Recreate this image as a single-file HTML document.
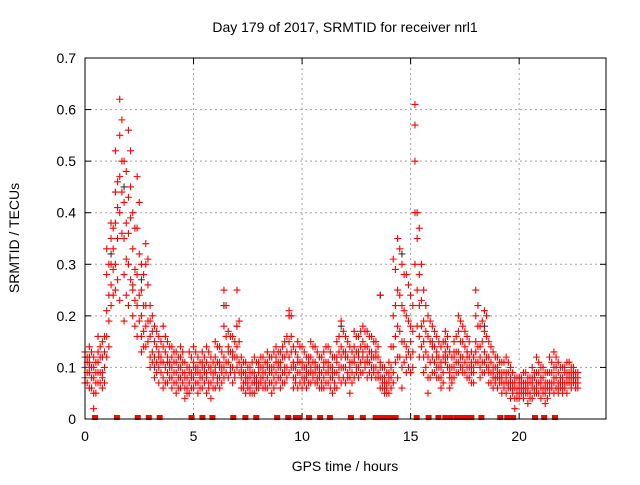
<!DOCTYPE html>
<html><head><meta charset="utf-8"><style>
body{margin:0;background:#fff;}
svg text{font-family:"Liberation Sans",sans-serif;font-size:14px;fill:#000;}
</style></head><body>
<svg id="chart" width="640" height="480" xmlns="http://www.w3.org/2000/svg">
<rect width="640" height="480" fill="#fff"/>
<text x="345" y="32" text-anchor="middle">Day 179 of 2017, SRMTID for receiver nrl1</text>
<text x="345" y="471" text-anchor="middle">GPS time / hours</text>
<text transform="translate(19,238) rotate(-90)" text-anchor="middle">SRMTID / TECUs</text>
<g id="grid"></g>
<g id="ticks"></g>
<g id="marks"></g>
<rect x="85" y="58" width="521" height="361" fill="none" stroke="#000" stroke-width="1"/>
</svg>
<script>
const xTicks=[0,5,10,15,20];
const yTicks=[0,0.1,0.2,0.3,0.4,0.5,0.6,0.7];
const yTickLabels=["0","0.1","0.2","0.3","0.4","0.5","0.6","0.7"];
const times=[0.0,0.2,0.4,0.6,0.8,1.0,1.2,1.4,1.6,1.8,2.0,2.2,2.4,2.6,2.8,3.0,3.2,3.4,3.6,3.8,4.0,4.2,4.4,4.6,4.8,5.0,5.2,5.4,5.6,5.8,6.0,6.2,6.4,6.6,6.8,7.0,7.2,7.4,7.6,7.8,8.0,8.2,8.4,8.6,8.8,9.0,9.2,9.4,9.6,9.8,10.0,10.2,10.4,10.6,10.8,11.0,11.2,11.4,11.6,11.8,12.0,12.2,12.4,12.6,12.8,13.0,13.2,13.4,13.6,13.8,14.0,14.2,14.4,14.6,14.8,15.0,15.2,15.4,15.6,15.8,16.0,16.2,16.4,16.6,16.8,17.0,17.2,17.4,17.6,17.8,18.0,18.2,18.4,18.6,18.8,19.0,19.2,19.4,19.6,19.8,20.0,20.2,20.4,20.6,20.8,21.0,21.2,21.4,21.6,21.8,22.0,22.2,22.4,22.6];
const redValues=[
[.13,.10,.08,.12,.07],[.11,.09,.14,.06,.10],[.08,.05,.12,.02,.10],[.07,.11,.16,.09,.13],[.06,.09,.12,.15,.08],
[.16,.21,.28,.33,.12],[.22,.26,.35,.38,.30],[.25,.44,.52,.38,.30],[.62,.55,.47,.40,.23],[.50,.42,.35,.28,.19],
[.56,.43,.36,.30,.22],[.40,.33,.25,.20,.26],[.47,.37,.28,.22,.16],[.30,.25,.20,.16,.13],[.34,.30,.22,.18,.14],
[.22,.19,.16,.12,.10],[.18,.15,.12,.10,.08],[.16,.13,.10,.07,.12],[.18,.14,.11,.08,.06],[.15,.12,.09,.07,.11],
[.14,.10,.08,.06,.12],[.13,.09,.07,.05,.11],[.12,.10,.08,.06,.14],[.11,.08,.06,.04,.09],[.13,.10,.07,.05,.09],
[.14,.11,.08,.06,.10],[.12,.09,.07,.05,.10],[.13,.10,.08,.06,.11],[.14,.11,.08,.05,.09],[.12,.09,.07,.04,.10],
[.15,.12,.09,.06,.10],[.14,.11,.08,.06,.10],[.25,.18,.12,.08,.10],[.17,.14,.11,.08,.13],[.16,.13,.10,.07,.12],
[.25,.18,.14,.10,.12],[.12,.10,.08,.06,.09],[.11,.09,.07,.05,.08],[.10,.08,.06,.05,.09],[.12,.09,.07,.05,.08],
[.11,.09,.07,.06,.10],[.12,.10,.08,.06,.09],[.13,.10,.08,.06,.11],[.12,.09,.07,.05,.10],[.14,.11,.09,.07,.12],
[.13,.11,.08,.06,.10],[.15,.12,.09,.07,.10],[.21,.20,.15,.12,.09],[.14,.11,.08,.06,.10],[.15,.12,.09,.06,.11],
[.14,.11,.08,.06,.10],[.12,.10,.08,.06,.09],[.15,.12,.09,.07,.10],[.14,.11,.09,.07,.10],[.12,.10,.08,.06,.09],
[.13,.11,.08,.06,.10],[.14,.11,.09,.07,.10],[.12,.10,.08,.05,.09],[.15,.12,.09,.06,.11],[.19,.14,.10,.07,.12],
[.16,.13,.10,.07,.12],[.14,.11,.08,.05,.10],[.17,.14,.11,.08,.12],[.16,.13,.10,.08,.12],[.18,.15,.12,.09,.13],
[.17,.14,.11,.08,.12],[.16,.13,.10,.08,.12],[.15,.12,.10,.08,.13],[.24,.11,.08,.06,.10],[.10,.08,.06,.05,.07],
[.11,.09,.07,.05,.08],[.31,.20,.14,.09,.07],[.35,.25,.18,.12,.08],[.30,.22,.15,.10,.06],[.28,.20,.14,.09,.12],
[.24,.18,.12,.09,.15],[.61,.57,.50,.40,.30],[.37,.28,.22,.16,.12],[.25,.19,.15,.12,.09],[.20,.16,.12,.08,.05],
[.18,.15,.12,.09,.14],[.16,.13,.10,.08,.12],[.14,.11,.08,.06,.10],[.17,.15,.13,.11,.12],[.13,.10,.08,.06,.09],
[.15,.13,.10,.08,.12],[.20,.17,.13,.09,.11],[.18,.15,.12,.09,.10],[.16,.13,.10,.08,.12],[.13,.11,.09,.07,.10],
[.25,.20,.15,.11,.13],[.18,.14,.10,.08,.12],[.21,.17,.13,.09,.11],[.15,.12,.09,.07,.10],[.13,.10,.08,.06,.09],
[.12,.10,.08,.06,.09],[.11,.09,.07,.05,.08],[.12,.09,.07,.05,.08],[.10,.08,.06,.04,.07],[.08,.06,.04,.02,.07],
[.08,.07,.05,.04,.06],[.09,.07,.05,.04,.06],[.08,.06,.05,.03,.07],[.10,.08,.06,.04,.07],[.12,.09,.07,.05,.06],
[.10,.08,.06,.04,.07],[.09,.07,.05,.03,.06],[.12,.09,.07,.05,.06],[.13,.10,.08,.05,.07],[.11,.09,.07,.05,.06],
[.10,.08,.06,.05,.07],[.11,.09,.07,.05,.08],[.10,.08,.07,.06,.09],[.09,.08,.07,.06,.07]];
const times2=[0.1,0.3,0.5,0.7,0.9,1.1,1.3,1.5,1.7,1.9,2.1,2.3,2.5,2.7,2.9,3.1,3.3,3.5,3.7,3.9,4.1,4.3,4.5,4.7,4.9,5.1,5.3,5.5,5.7,5.9,6.1,6.3,6.5,6.7,6.9,7.1,7.3,7.5,7.7,7.9,8.1,8.3,8.5,8.7,8.9,9.1,9.3,9.5,9.7,9.9,10.1,10.3,10.5,10.7,10.9,11.1,11.3,11.5,11.7,11.9,12.1,12.3,12.5,12.7,12.9,13.1,13.3,13.5,13.7,13.9,14.1,14.3,14.5,14.7,14.9,15.1,15.3,15.5,15.7,15.9,16.1,16.3,16.5,16.7,16.9,17.1,17.3,17.5,17.7,17.9,18.1,18.3,18.5,18.7,18.9,19.1,19.3,19.5,19.7,19.9,20.1,20.3,20.5,20.7,20.9,21.1,21.3,21.5,21.7,21.9,22.1,22.3,22.5,22.7];
const redValues2=[
[.11,.09,.07,.12],[.10,.08,.06,.13],[.09,.07,.11,.05],[.12,.09,.07,.14],[.10,.07,.13,.16],
[.24,.19,.30,.14],[.29,.33,.24,.37],[.46,.35,.41,.27],[.58,.50,.44,.36],[.48,.38,.31,.24],
[.52,.45,.39,.27],[.37,.29,.23,.18],[.42,.32,.24,.19],[.28,.22,.17,.14],[.31,.26,.19,.15],
[.20,.17,.13,.11],[.17,.14,.11,.09],[.15,.12,.09,.11],[.16,.13,.10,.07],[.14,.11,.08,.10],
[.13,.11,.09,.07],[.12,.10,.08,.06],[.11,.09,.07,.13],[.10,.08,.06,.05],[.12,.09,.08,.06],
[.13,.10,.07,.09],[.11,.09,.06,.08],[.12,.09,.07,.10],[.13,.10,.07,.06],[.11,.08,.06,.09],
[.14,.11,.08,.07],[.13,.10,.09,.07],[.22,.16,.11,.09],[.16,.13,.10,.09],[.15,.12,.09,.08],
[.19,.15,.11,.09],[.11,.09,.07,.06],[.10,.08,.07,.06],[.11,.09,.07,.05],[.11,.08,.07,.06],
[.12,.10,.08,.07],[.11,.09,.07,.06],[.12,.10,.07,.09],[.13,.10,.08,.06],[.13,.10,.08,.11],
[.14,.12,.09,.07],[.16,.13,.10,.08],[.20,.16,.13,.10],[.13,.10,.08,.07],[.14,.11,.09,.07],
[.13,.10,.08,.07],[.12,.09,.07,.11],[.14,.11,.09,.08],[.13,.10,.08,.07],[.12,.09,.07,.06],
[.14,.11,.09,.07],[.13,.10,.08,.06],[.12,.09,.07,.06],[.16,.13,.10,.08],[.17,.13,.10,.08],
[.15,.12,.09,.08],[.13,.11,.09,.07],[.16,.13,.10,.09],[.17,.14,.11,.09],[.17,.14,.11,.10],
[.16,.13,.11,.09],[.15,.12,.10,.09],[.14,.12,.09,.08],[.10,.08,.07,.06],[.09,.07,.06,.05],
[.14,.10,.08,.06],[.29,.22,.16,.11],[.33,.24,.17,.12],[.28,.21,.15,.11],[.26,.19,.13,.10],
[.22,.17,.13,.10],[.40,.35,.25,.18],[.30,.23,.18,.14],[.22,.17,.13,.10],[.19,.15,.11,.08],
[.17,.14,.11,.09],[.15,.12,.10,.08],[.15,.12,.09,.07],[.16,.14,.12,.10],[.12,.10,.08,.07],
[.16,.13,.11,.09],[.19,.15,.12,.10],[.17,.14,.11,.09],[.15,.12,.10,.08],[.12,.10,.09,.07],
[.22,.18,.14,.11],[.19,.15,.11,.09],[.20,.16,.12,.10],[.14,.11,.09,.07],[.12,.10,.08,.07],
[.11,.09,.08,.07],[.11,.09,.07,.06],[.11,.09,.07,.06],[.09,.07,.06,.05],[.08,.06,.05,.04],
[.08,.07,.06,.05],[.09,.07,.06,.05],[.08,.07,.05,.04],[.09,.08,.06,.05],[.11,.09,.07,.05],
[.10,.08,.06,.05],[.09,.07,.06,.04],[.11,.09,.07,.06],[.12,.10,.08,.06],[.10,.08,.07,.06],
[.10,.09,.07,.06],[.11,.09,.08,.07],[.10,.09,.08,.07],[.09,.08,.07,.06]];
const blackTimes=[0.2,1.2,1.8,2.6,6.4,7.0,9.4,11.8,13.6,14.6,15.0,17.6,18.4,20.0];
const blackValues=[0.12,0.32,0.45,0.27,0.22,0.18,0.20,0.18,0.24,0.32,0.09,0.13,0.18,0.08];
const gapTimes=[0.46,1.47,2.43,2.94,3.44,4.91,5.41,5.87,6.83,7.39,7.89,8.85,9.36,9.72,9.86,10.32,10.83,11.28,12.25,12.8,13.39,13.62,13.85,14.08,14.31,15.28,15.83,16.28,16.6,16.83,17.11,17.34,17.57,17.8,18.26,19.13,19.45,19.72,20.73,21.15,21.65];

const X0=85,X1=606,Y0=419,Y1=58,XMAX=24,YMAX=0.7;
const xs=h=>X0+h/XMAX*(X1-X0);
const ys=v=>Y0-v/YMAX*(Y0-Y1);
const NS="http://www.w3.org/2000/svg";
function mk(tag,parent,attrs){const e=document.createElementNS(NS,tag);for(const k in attrs)e.setAttribute(k,attrs[k]);parent.appendChild(e);return e;}
const grid=document.getElementById('grid'),ticks=document.getElementById('ticks'),marks=document.getElementById('marks');
xTicks.forEach(t=>{
  const x=xs(t);
  if(t>0){const g=mk('line',grid,{x1:x,x2:x,y1:Y1,y2:Y0,stroke:'#a0a0a0','stroke-dasharray':'2,3'});
  
  }
  const a=mk('line',ticks,{x1:x,x2:x,y1:Y0,y2:Y0-6,stroke:'#000'});
  
  
  const b=mk('line',ticks,{x1:x,x2:x,y1:Y1,y2:Y1+6,stroke:'#000'});
  
  
  const l=mk('text',ticks,{x:x,y:Y0+22,'text-anchor':'middle'});l.textContent=String(t);
  
  
});
yTicks.forEach((t,i)=>{
  const y=ys(t);
  if(t>0&&t<YMAX){const g=mk('line',grid,{x1:X0,x2:X1,y1:y,y2:y,stroke:'#a0a0a0','stroke-dasharray':'2,3'});
  
  }
  const a=mk('line',ticks,{x1:X0,x2:X0+6,y1:y,y2:y,stroke:'#000'});
  
  
  const b=mk('line',ticks,{x1:X1,x2:X1-6,y1:y,y2:y,stroke:'#000'});
  
  
  const l=mk('text',ticks,{x:X0-9,y:y+5,'text-anchor':'end'});l.textContent=yTickLabels[i];
  
  
});
function plus(h,v,color,name){
  const x=xs(h),y=ys(v);
  const p=mk('path',marks,{d:`M${x-3.5},${y}H${x+3.5}M${x},${y-3.5}V${y+3.5}`,stroke:color,'stroke-width':1.1,fill:'none'});
  
  
}
blackTimes.forEach((h,i)=>plus(h,blackValues[i],'#333','black-point'));
times.forEach((h,i)=>redValues[i].forEach(v=>plus(h,v,'#f00','red-point')));
times2.forEach((h,i)=>redValues2[i].forEach(v=>plus(h,v,'#f00','red-point')));
gapTimes.forEach(h=>{
  const r=mk('rect',marks,{x:xs(h)-3,y:Y0-4,width:6,height:5,fill:'#f00'});
  
  
});
</script>
</body></html>
